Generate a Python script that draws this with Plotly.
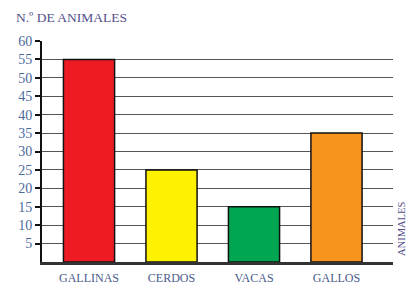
import plotly.graph_objects as go

categories = ["GALLINAS", "CERDOS", "VACAS", "GALLOS"]
values = [55, 25, 15, 35]
colors = ["#ED1C24", "#FFF200", "#00A651", "#F7941D"]
y_ticks = [5, 10, 15, 20, 25, 30, 35, 40, 45, 50, 55, 60]

fig = go.Figure()
fig.add_trace(go.Bar(
    x=categories, y=values, width=0.62,
    marker=dict(color=colors, line=dict(color="#111111", width=1.5)),
    hoverinfo="skip",
))

# page body has an 8px margin, so the figure is sized 8px smaller
fig.update_layout(
    width=406, height=276,
    margin=dict(l=34, r=21, t=33, b=22, autoexpand=False),
    paper_bgcolor="white", plot_bgcolor="white",
    showlegend=False,
    font=dict(family="Liberation Serif, DejaVu Serif, serif"),
)
fig.update_xaxes(
    range=[-0.57, 3.685], automargin=False,
    showline=True, linecolor="#333333", linewidth=2.5,
    showgrid=False, ticks="",
    tickfont=dict(size=12, color="#4a5a8c"),
    ticklabelstandoff=3,
)
fig.update_yaxes(
    range=[0, 60], automargin=False,
    tickvals=y_ticks,
    showline=True, linecolor="#111111", linewidth=2,
    showgrid=True, gridcolor="#555555", gridwidth=1,
    ticks="outside", ticklen=5, tickcolor="#111111", tickwidth=1.5,
    tickfont=dict(size=14, color="#4a6a9c"),
    zeroline=False,
)
fig.add_annotation(
    text="N.º DE ANIMALES", xref="paper", yref="paper",
    x=-28/351, y=1 + 23/221, xanchor="left", yanchor="middle",
    showarrow=False, font=dict(size=13.5, color="#54508a"),
)
fig.add_annotation(
    text="ANIMALES", xref="paper", yref="paper",
    x=1 + 8/351, y=(262-229)/221, xanchor="center", yanchor="middle",
    textangle=-90, showarrow=False, font=dict(size=10.5, color="#54508a"),
)

fig.write_html("out.html")
